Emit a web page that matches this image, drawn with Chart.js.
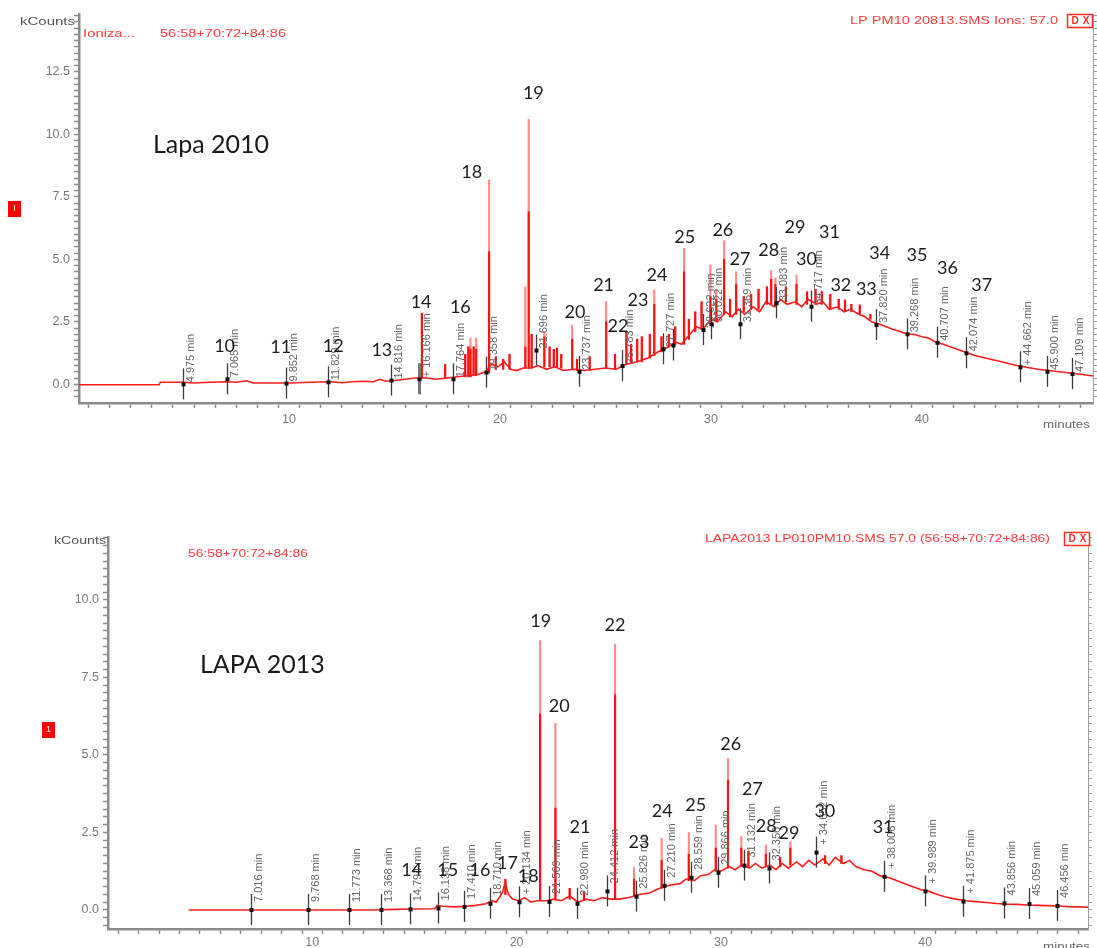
<!DOCTYPE html>
<html>
<head>
<meta charset="utf-8">
<script src="https://cdn.jsdelivr.net/npm/chart.js@4.4.1/dist/chart.umd.min.js"></script>
<style>
  html, body { margin: 0; padding: 0; background: #fff; }
  body { width: 1097px; height: 948px; position: relative; overflow: hidden; }
  canvas { position: absolute; left: 0; }
  #chart2010 { top: 0; }
  #chart2013 { top: 520px; }
</style>
</head>
<body>
<canvas id="chart2010" width="1097" height="445"></canvas>
<canvas id="chart2013" width="1097" height="428"></canvas>
<script>
// ---- axis labels ----
const yTickLabels = [0, 2.5, 5, 7.5, 10, 12.5];
const xTickLabels = [10, 20, 30, 40];

// ---- Lapa 2010 : baseline trace (minutes, kCounts) ----
const trace2010Time = [
  0.05, 3.85, 3.9, 5, 5.5, 6, 7, 7.5, 8, 8.3,
  9, 10, 11, 12, 12.5, 13, 13.5, 14, 14.3, 14.6,
  15, 15.5, 16, 16.5, 17, 17.5, 18, 18.5, 19, 19.3,
  19.6, 19.9, 20.2, 20.5, 20.8, 21.1, 21.5, 21.8, 22.2, 22.6,
  23, 23.5, 24, 24.5, 25, 25.5, 26, 26.5, 27, 27.5,
  28, 28.3, 28.6, 29, 29.3, 29.6, 30, 30.3, 30.7, 31,
  31.3, 31.6, 32, 32.3, 32.6, 33, 33.3, 33.6, 34, 34.3,
  34.6, 35, 35.3, 35.6, 36, 36.3, 36.6, 37, 37.3, 37.6,
  38, 38.3, 38.6, 39, 39.3, 39.6, 40, 40.3, 40.6, 41,
  41.5, 42, 42.5, 43, 43.5, 44, 44.5, 45, 45.5, 46,
  46.5, 47, 47.5, 48.1
];
const trace2010Value = [
  -0.02, -0.02, 0.08, 0.08, 0.05, 0.07, 0.1, 0.08, 0.14, 0.05,
  0.05, 0.05, 0.08, 0.1, 0.06, 0.1, 0.12, 0.1, 0.2, 0.12,
  0.15, 0.2, 0.25, 0.25, 0.2, 0.25, 0.3, 0.35, 0.4, 0.5,
  0.8, 0.7, 0.9, 0.6, 0.55, 0.65, 0.65, 0.75, 0.6, 0.7,
  0.55, 0.6, 0.55, 0.6, 0.65, 0.6, 0.8, 0.9, 1.05, 1.3,
  1.5, 1.7, 1.6, 2.0, 2.3, 2.2, 2.6, 2.5, 2.9, 2.7,
  3.0, 2.8, 3.1, 2.9, 3.3, 3.1, 3.4, 3.2, 3.3, 3.1,
  3.4, 3.2, 3.3, 3.0, 3.1, 2.9, 3.0, 2.8, 2.7, 2.5,
  2.4, 2.3, 2.2, 2.1, 2.0, 2.0, 1.9, 1.85, 1.7, 1.6,
  1.45, 1.3, 1.15, 1.05, 0.95, 0.85, 0.75, 0.67, 0.6, 0.55,
  0.5, 0.45, 0.4, 0.33
];

// ---- Lapa 2010 : peaks (time, foot, apex, solid part) ----
const spike2010Time = [
  16.3, 17.4, 18.35, 18.5, 18.6, 18.75, 18.87, 19.48, 19.8, 20.15,
  20.45, 21.2, 21.36, 21.5, 22.1, 22.35, 22.55, 22.7, 22.9, 23.42,
  23.65, 24.25, 25.03, 25.45, 25.99, 26.21, 26.5, 26.72, 27.1, 27.31,
  27.65, 28.0, 28.3, 28.72, 28.95, 29.25, 29.55, 29.97, 30.25, 30.62,
  30.9, 31.19, 31.55, 31.9, 32.25, 32.65, 32.85, 33.05, 33.55, 34.05,
  34.55, 34.95, 35.25, 35.65, 36.05, 36.35, 36.65, 37.05, 37.55
];
const spike2010Base = [
  0.25, 0.25, 0.3, 0.3, 0.3, 0.35, 0.35, 0.45, 0.6, 0.6,
  0.6, 0.65, 0.65, 0.65, 0.7, 0.7, 0.7, 0.7, 0.65, 0.6,
  0.55, 0.55, 0.65, 0.6, 0.8, 0.85, 0.9, 0.9, 1.05, 1.15,
  1.3, 1.5, 1.6, 1.6, 1.8, 2.1, 2.2, 2.5, 2.5, 2.8,
  2.7, 2.8, 2.9, 3.0, 3.0, 3.2, 3.2, 3.1, 3.3, 3.2,
  3.2, 3.2, 3.2, 3.0, 3.0, 2.9, 2.9, 2.8, 2.6
];
const spike2010Top = [
  2.84, 0.8, 1.2, 1.5, 1.85, 1.5, 1.85, 8.17, 1.1, 1.0,
  1.2, 3.9, 10.6, 2.0, 2.1, 1.5, 1.4, 1.45, 1.2, 2.37,
  1.0, 1.1, 3.3, 1.2, 2.1, 1.6, 1.8, 1.9, 2.0, 3.77,
  1.9, 2.0, 2.3, 5.44, 2.6, 2.9, 3.3, 4.77, 3.77, 5.74,
  3.4, 4.5, 3.5, 3.6, 3.8, 3.9, 4.55, 4.25, 3.9, 4.37,
  3.7, 3.8, 3.7, 3.6, 3.4, 3.37, 3.2, 3.17, 2.8
];
const spike2010Core = [
  2.84, 0.8, 1.2, 1.5, 1.4, 1.5, 1.4, 5.3, 1.1, 1.0,
  1.2, 1.5, 6.9, 2.0, 1.9, 1.5, 1.4, 1.45, 1.2, 1.8,
  1.0, 1.1, 2.5, 1.2, 2.1, 1.6, 1.8, 1.9, 2.0, 3.2,
  1.9, 2.0, 2.3, 4.5, 2.6, 2.9, 3.3, 3.5, 3.4, 5.0,
  3.4, 4.0, 3.5, 3.6, 3.8, 3.9, 4.2, 4.0, 3.9, 4.0,
  3.7, 3.8, 3.7, 3.6, 3.4, 3.37, 3.2, 3.17, 2.8
];

// ---- Lapa 2010 : retention time markers ----
const marker2010Time = [4.975, 7.065, 9.852, 11.829, 14.816, 16.166, 17.764, 19.358, 21.696, 23.737,
  25.783, 27.727, 28.2, 29.622, 30.022, 31.369, 33.083, 34.717, 37.82, 39.268,
  40.707, 42.074, 44.662, 45.9, 47.109];
const marker2010Level = [0.0, 0.2, 0.03, 0.08, 0.15, 0.2, 0.2, 0.47, 1.35, 0.5,
  0.73, 1.4, 1.55, 2.17, 2.4, 2.4, 3.24, 3.1, 2.37, 2.0,
  1.66, 1.24, 0.68, 0.5, 0.41];
const marker2010Label = ['4.975 min', '7.065 min', '9.852 min', '11.829 min', '14.816 min', '+ 16.166 min',
  '17.764 min', '19.358 min', '21.696 min', '23.737 min', '25.783 min', '27.727 min', '', '29.622 min',
  '30.022 min', '31.369 min', '33.083 min', '34.717 min', '37.820 min', '39.268 min', '40.707 min',
  '42.074 min', '+ 44.662 min', '45.900 min', '47.109 min'];

// ---- Lapa 2010 : compound numbers ----
const peakNo2010 = ['10', '11', '12', '13', '14', '16', '18', '19', '20', '21', '22', '23', '24',
  '25', '26', '27', '28', '29', '30', '31', '32', '33', '34', '35', '36', '37'];
const peakNo2010Time = [6.95, 9.61, 12.1, 14.4, 16.26, 18.12, 18.66, 21.58, 23.55, 24.91, 25.59, 26.54, 27.44,
  28.75, 30.56, 31.37, 32.73, 33.98, 34.52, 35.61, 36.15, 37.36, 37.99, 39.76, 41.2, 42.83];
const peakNo2010Value = [1.53, 1.48, 1.53, 1.37, 3.3, 3.1, 8.5, 11.64, 2.9, 3.97, 2.33, 3.36, 4.37,
  5.88, 6.17, 5.0, 5.36, 6.3, 5.0, 6.1, 3.97, 3.8, 5.24, 5.17, 4.64, 3.97];

// ---- LAPA 2013 : baseline trace ----
const trace2013Time = [
  3.95, 5, 7, 9, 11, 13, 14, 15, 16, 16.1,
  16.4, 17, 17.5, 18, 18.5, 18.8, 19, 19.3, 19.45, 19.6,
  19.8, 20.1, 20.4, 20.7, 21, 21.5, 21.8, 22.2, 22.6, 23,
  23.4, 23.8, 24.2, 24.6, 25, 25.5, 26, 26.5, 27, 27.5,
  28, 28.3, 28.7, 29, 29.4, 29.7, 30, 30.4, 30.7, 31,
  31.4, 31.7, 32, 32.4, 32.7, 33, 33.3, 33.7, 34, 34.3,
  34.6, 35, 35.3, 35.6, 36, 36.3, 36.6, 37, 37.4, 37.8,
  38.2, 38.6, 39, 39.4, 39.8, 40.2, 40.6, 41, 41.5, 42,
  42.5, 43, 43.5, 44, 44.5, 45, 45.5, 46, 46.5, 47,
  47.5, 47.97
];
const trace2013Value = [
  0, 0, 0, 0, 0, 0, 0.02, 0.03, 0.04, 0.14,
  0.12, 0.1, 0.12, 0.15, 0.2, 0.3, 0.25, 0.55, 0.9, 0.5,
  0.35, 0.3, 0.4, 0.25, 0.3, 0.3, 0.35, 0.3, 0.45, 0.25,
  0.35, 0.3, 0.4, 0.35, 0.35, 0.4, 0.5, 0.55, 0.7, 0.8,
  0.85, 1.0, 0.95, 1.1, 1.15, 1.3, 1.25, 1.4, 1.3, 1.45,
  1.35, 1.5, 1.35, 1.45, 1.3, 1.5, 1.35, 1.55, 1.4, 1.6,
  1.45, 1.65, 1.45, 1.7, 1.5, 1.6, 1.4, 1.3, 1.25, 1.1,
  1.05, 0.95, 0.85, 0.75, 0.65, 0.6, 0.5, 0.42, 0.35, 0.3,
  0.27, 0.24, 0.21, 0.19, 0.18, 0.16, 0.15, 0.14, 0.13, 0.11,
  0.1, 0.09
];

// ---- LAPA 2013 : peaks ----
const spike2013Time = [19.45, 21.15, 21.9, 22.6, 23.3, 24.82, 25.75, 27.1, 28.43, 29.75, 30.35, 31.0, 31.35, 32.2, 32.9, 33.4, 35.1, 35.9];
const spike2013Base = [0.5, 0.3, 0.33, 0.35, 0.3, 0.35, 0.45, 0.7, 0.95, 1.25, 1.35, 1.4, 1.4, 1.4, 1.4, 1.45, 1.5, 1.5];
const spike2013Top = [0.99, 8.69, 6.02, 0.7, 0.6, 8.57, 1.38, 2.31, 2.5, 2.74, 4.89, 2.37, 1.9, 2.1, 1.7, 2.2, 1.75, 1.75];
const spike2013Core = [0.99, 6.32, 3.29, 0.7, 0.6, 6.94, 1.0, 1.6, 1.8, 2.0, 4.19, 2.0, 1.9, 1.8, 1.7, 2.0, 1.75, 1.75];

// ---- LAPA 2013 : retention time markers ----
const marker2013Time = [7.016, 9.768, 11.773, 13.368, 14.794, 16.138, 17.41, 18.71, 20.134, 21.569,
  22.98, 24.412, 25.826, 27.21, 28.559, 29.866, 31.132, 32.356, 34.652, 38.006,
  39.989, 41.875, 43.856, 45.059, 46.456];
const marker2013Level = [0, 0, 0, 0, 0.02, 0.05, 0.1, 0.2, 0.25, 0.26,
  0.2, 0.6, 0.43, 0.78, 1.04, 1.2, 1.43, 1.34, 1.85, 1.07,
  0.6, 0.27, 0.21, 0.19, 0.13];
const marker2013Label = ['7.016 min', '9.768 min', '11.773 min', '13.368 min', '14.794 min', '16.138 min',
  '17.410 min', '18.710 min', '+ 20.134 min', '21.569 min', '22.980 min', '24.412 min', '25.826 min',
  '27.210 min', '28.559 min', '29.866 min', '31.132 min', '32.356 min', '+ 34.652 min', '+ 38.006 min',
  '+ 39.989 min', '+ 41.875 min', '43.856 min', '45.059 min', '46.456 min'];

// ---- LAPA 2013 : compound numbers ----
const peakNo2013 = ['14', '15', '16', '17', '18', '19', '20', '21', '22', '23', '24', '25', '26', '27', '28', '29', '30', '31'];
const peakNo2013Time = [14.86, 16.63, 18.21, 19.55, 20.57, 21.18, 22.09, 23.1, 24.82, 25.99, 27.13, 28.77, 30.48, 31.54, 32.22, 33.33, 35.09, 37.94];
const peakNo2013Value = [1.29, 1.27, 1.27, 1.5, 1.1, 9.33, 6.56, 2.66, 9.19, 2.2, 3.2, 3.39, 5.35, 3.89, 2.71, 2.49, 3.2, 2.67];

const AXIS_GREY = '#8c8c8c';
const SANS = '"Liberation Sans", Arial, sans-serif';

function tickList(lo, hi, step) {
  const out = [];
  for (let k = Math.ceil(lo / step - 1e-9); k * step <= hi + 1e-9; k++) {
    out.push({ value: +(k * step).toFixed(4) });
  }
  return out;
}

// text squeezed / stretched to the width it takes in the picture
function fitText(ctx, text, x, y, size, width, color) {
  ctx.save();
  ctx.font = size + 'px ' + SANS;
  const w = ctx.measureText(text).width;
  ctx.translate(x, y);
  ctx.scale(width / w, 1);
  ctx.fillStyle = color;
  ctx.textAlign = 'left';
  ctx.textBaseline = 'middle';
  ctx.fillText(text, 0, 0);
  ctx.restore();
}

function overlay(g) {
  return {
    id: 'overlay',
    afterDatasetsDraw(chart) {
      const ctx = chart.ctx;
      const x = chart.scales.x, y = chart.scales.y;
      ctx.save();
      g.markerTime.forEach((t, i) => {
        const px = Math.round(x.getPixelForValue(t)) + 0.5;
        const py = y.getPixelForValue(g.markerLevel[i]);
        const wide = g.markerLabel[i].startsWith('+ 16');
        ctx.strokeStyle = wide ? '#777' : '#3c3c3c';
        ctx.lineWidth = wide ? 3 : 1.3;
        ctx.beginPath();
        ctx.moveTo(px, py - 16);
        ctx.lineTo(px, py + 15);
        ctx.stroke();
        ctx.fillStyle = '#111';
        ctx.fillRect(px - 2, py - 2, 4, 4);
        ctx.save();
        ctx.translate(px + 2, py - g.labelLift);
        ctx.rotate(-Math.PI / 2);
        ctx.font = '11px ' + SANS;
        ctx.fillStyle = '#666';
        ctx.textAlign = 'left';
        ctx.textBaseline = 'top';
        ctx.fillText(g.markerLabel[i], 0, 0);
        ctx.restore();
      });
      ctx.font = '18px Lato, "Open Sans", sans-serif';
      ctx.fillStyle = '#1c1c1c';
      ctx.textAlign = 'center';
      ctx.textBaseline = 'middle';
      g.peakNo.forEach((n, i) => {
        ctx.fillText(n, x.getPixelForValue(g.peakNoTime[i]), y.getPixelForValue(g.peakNoValue[i]));
      });
      ctx.restore();
    },
    afterDraw(chart) {
      const ctx = chart.ctx;
      ctx.save();
      g.texts.forEach(s => fitText(ctx, s[0], s[1], s[2], s[3], s[4], s[5]));
      // title
      ctx.font = '25px Lato, "Open Sans", sans-serif';
      ctx.fillStyle = '#1a1a1a';
      ctx.textAlign = 'left';
      ctx.textBaseline = 'middle';
      ctx.fillText(g.title, g.titleX, g.titleY);
      // little red window buttons
      const b = g.closeBox;
      ctx.fillStyle = '#fff';
      ctx.fillRect(b[0], b[1], 26, 14);
      ctx.strokeStyle = '#ff2b2b';
      ctx.lineWidth = 1.5;
      ctx.strokeRect(b[0] + 0.5, b[1] + 0.5, 25, 13);
      ctx.fillStyle = '#ff2b2b';
      ctx.font = 'bold 10px ' + SANS;
      ctx.textAlign = 'center';
      ctx.fillText('D', b[0] + 8, b[1] + 7.5);
      ctx.fillText('X', b[0] + 19, b[1] + 7.5);
      const r = g.traceBox;
      ctx.fillStyle = '#ff0000';
      ctx.fillRect(r[0], r[1], 13, 16);
      ctx.fillStyle = '#fff';
      ctx.font = '9px ' + SANS;
      ctx.fillText(r[2], r[0] + 6.5, r[1] + 8);
      ctx.restore();
    }
  };
}

function buildChart(id, g) {
  const traceData = g.traceTime.map((t, i) => ({ x: t, y: g.traceValue[i] }));
  const spikeData = g.spikeTime.map((t, i) => ({ x: t, y: [g.spikeBase[i], g.spikeTop[i]] }));
  const coreData = g.spikeTime.map((t, i) => ({ x: t, y: [g.spikeBase[i], g.spikeCore[i]] }));
  const yTicks = {
    autoSkip: false, includeBounds: false, padding: 4, color: '#7a7a7a',
    font: { family: SANS, size: 12.5 },
    callback: v => {
      const k = yTickLabels.findIndex(u => Math.abs(u - v) < 1e-6);
      return k >= 0 ? yTickLabels[k].toFixed(1) : '';
    }
  };
  new Chart(document.getElementById(id), {
    type: 'line',
    data: {
      datasets: [
        { type: 'line', data: traceData, borderColor: '#ff1c1c', borderWidth: 1.6, pointRadius: 0, tension: 0, order: 3 },
        { type: 'bar', data: spikeData, backgroundColor: 'rgba(255,110,110,0.8)', barThickness: 1.5, grouped: false, order: 2 },
        { type: 'bar', data: coreData, backgroundColor: '#ff1010', barThickness: 1.5, grouped: false, order: 1 }
      ]
    },
    options: {
      responsive: false,
      animation: false,
      events: [],
      layout: { padding: { top: g.padTop, left: 0, right: 0, bottom: 0 } },
      plugins: { legend: { display: false }, tooltip: { enabled: false } },
      scales: {
        x: {
          type: 'linear', min: g.xMin, max: g.xMax, bounds: 'data', offset: false,
          afterBuildTicks: s => { s.ticks = tickList(s.min, s.max, 1); },
          afterFit: s => { s.height = g.xAxisHeight; },
          border: { display: true, color: AXIS_GREY, width: 2.5 },
          grid: { drawOnChartArea: false, drawTicks: true, tickLength: 5, color: AXIS_GREY, tickWidth: 1.5 },
          ticks: {
            autoSkip: false, includeBounds: false, maxRotation: 0, padding: g.xPad, color: '#7a7a7a',
            font: { family: SANS, size: 12.5 },
            callback: v => xTickLabels.includes(v) ? String(v) : ''
          }
        },
        y: {
          type: 'linear', min: g.yMin, max: g.yMax, bounds: 'data',
          afterBuildTicks: s => { s.ticks = tickList(s.min, s.max, 0.25); },
          afterFit: s => { s.width = g.yAxisWidth; },
          border: { display: true, color: AXIS_GREY, width: 2.5 },
          grid: { drawOnChartArea: false, drawTicks: true, tickLength: 5, color: AXIS_GREY, tickWidth: 1.5 },
          ticks: yTicks
        },
        yr: {
          type: 'linear', position: 'right', min: g.yMin, max: g.yMax, bounds: 'data',
          afterBuildTicks: s => { s.ticks = tickList(s.min, s.max, 0.25); },
          afterFit: s => { s.width = g.rightWidth; },
          border: { display: true, color: '#a0a0a0', width: 1 },
          grid: { drawOnChartArea: false, drawTicks: true, tickLength: 4, color: '#a0a0a0', tickWidth: 1 },
          ticks: { autoSkip: false, padding: 0, font: { size: 1 }, callback: () => '' }
        }
      }
    },
    plugins: [overlay(g)]
  });
}

buildChart('chart2010', {
  traceTime: trace2010Time, traceValue: trace2010Value,
  spikeTime: spike2010Time, spikeBase: spike2010Base, spikeTop: spike2010Top, spikeCore: spike2010Core,
  markerTime: marker2010Time, markerLevel: marker2010Level, markerLabel: marker2010Label, labelLift: 2,
  peakNo: peakNo2010, peakNoTime: peakNo2010Time, peakNoValue: peakNo2010Value,
  xMin: 0.05, xMax: 48.1, yMin: -0.748, yMax: 14.81,
  padTop: 14, xAxisHeight: 42, yAxisWidth: 79, rightWidth: 4, xPad: 4,
  title: 'Lapa 2010', titleX: 153, titleY: 145,
  closeBox: [1067, 14], traceBox: [8, 201, 'I'],
  texts: [
    ['kCounts', 20, 22, 10, 55, '#555'],
    ['Ioniza...', 83, 34, 10.5, 52, '#ff3b3b'],
    ['56:58+70:72+84:86', 160, 34, 10.5, 126, '#ff3b3b'],
    ['LP PM10 20813.SMS Ions: 57.0', 850, 21, 11, 208, '#ff3b3b'],
    ['minutes', 1043, 425, 10, 47, '#666']
  ]
});

buildChart('chart2013', {
  traceTime: trace2013Time, traceValue: trace2013Value,
  spikeTime: spike2013Time, spikeBase: spike2013Base, spikeTop: spike2013Top, spikeCore: spike2013Core,
  markerTime: marker2013Time, markerLevel: marker2013Level, markerLabel: marker2013Label, labelLift: 8,
  peakNo: peakNo2013, peakNoTime: peakNo2013Time, peakNoValue: peakNo2013Value,
  xMin: 0, xMax: 47.97, yMin: -0.613, yMax: 12.03,
  padTop: 17, xAxisHeight: 19, yAxisWidth: 108, rightWidth: 9, xPad: 1,
  title: 'LAPA 2013', titleX: 200, titleY: 145,
  closeBox: [1064, 12], traceBox: [42, 202, '1'],
  texts: [
    ['kCounts', 54, 21, 10, 52, '#555'],
    ['56:58+70:72+84:86', 188, 34, 10.5, 120, '#ff3b3b'],
    ['LAPA2013 LP010PM10.SMS 57.0 (56:58+70:72+84:86)', 705, 19, 11, 345, '#ff3b3b'],
    ['minutes', 1043, 427, 10, 47, '#666']
  ]
});
</script>
</body>
</html>
